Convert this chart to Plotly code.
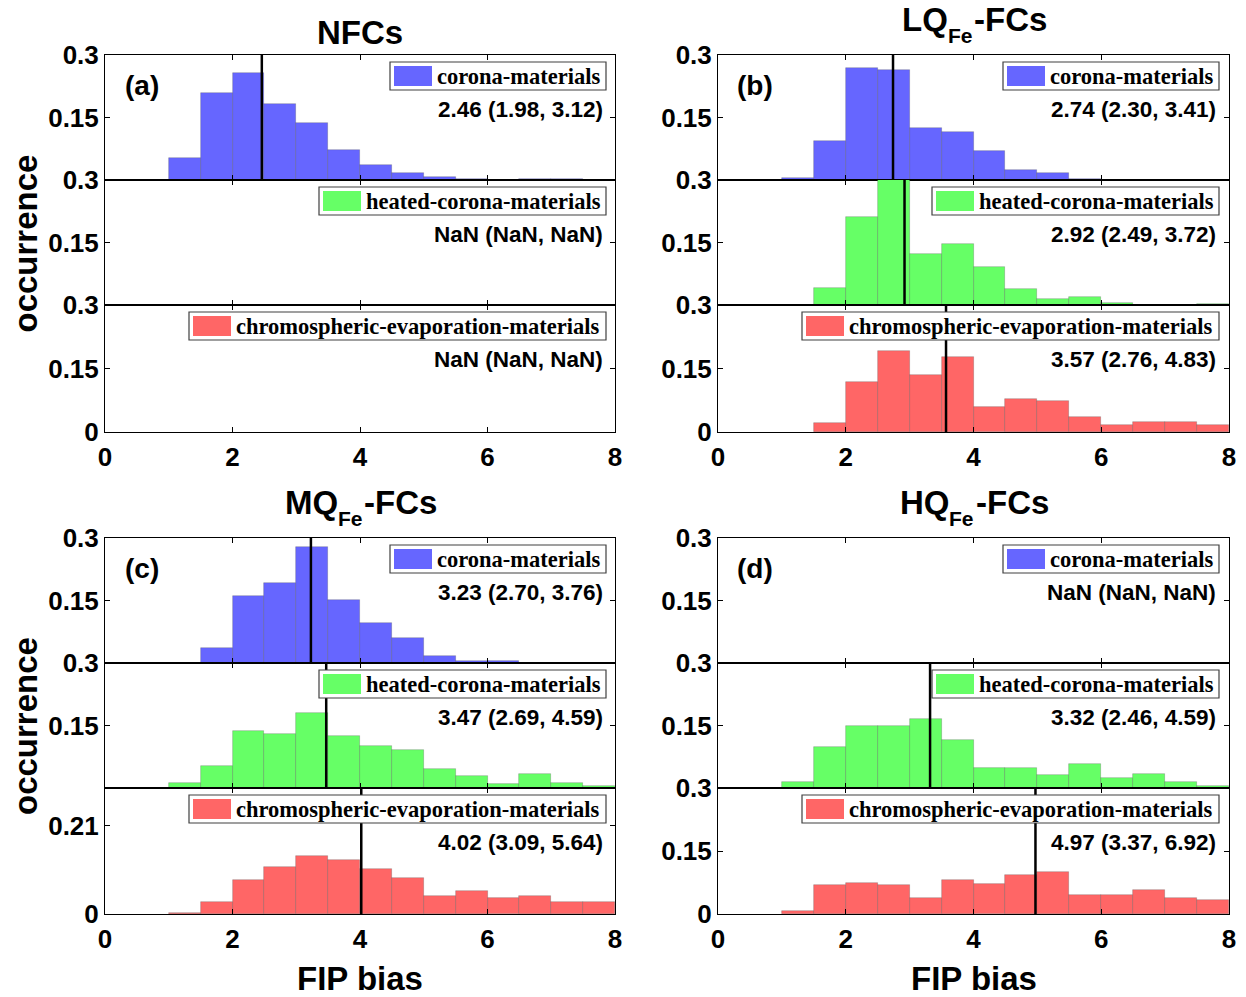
import plotly.graph_objects as go

# ---------------- data ----------------
bin_left = [0.0, 0.5, 1.0, 1.5, 2.0, 2.5, 3.0, 3.5, 4.0, 4.5, 5.0, 5.5, 6.0, 6.5, 7.0, 7.5]
bin_width = 0.5

a_corona = [0, 0, 0.053, 0.209, 0.256, 0.183, 0.138, 0.072, 0.035, 0.018, 0.008, 0.003, 0.001, 0.002, 0.003, 0]
a_heated = None
a_chromo = None

b_corona = [0, 0, 0.004, 0.093, 0.269, 0.265, 0.126, 0.115, 0.069, 0.024, 0.016, 0.003, 0, 0, 0, 0]
b_heated = [0, 0, 0, 0.040, 0.212, 0.310, 0.123, 0.147, 0.091, 0.038, 0.014, 0.019, 0.006, 0, 0, 0.002]
b_chromo = [0, 0, 0, 0.022, 0.117, 0.191, 0.135, 0.178, 0.060, 0.079, 0.073, 0.036, 0.017, 0.023, 0.023, 0.017]

c_corona = [0, 0, 0, 0.035, 0.162, 0.191, 0.278, 0.151, 0.097, 0.061, 0.017, 0.006, 0.006, 0, 0, 0]
c_heated = [0, 0, 0.011, 0.052, 0.136, 0.130, 0.179, 0.126, 0.101, 0.092, 0.045, 0.030, 0.009, 0.033, 0.011, 0.006]
c_chromo = [0, 0, 0.003, 0.029, 0.082, 0.111, 0.137, 0.129, 0.106, 0.086, 0.043, 0.054, 0.038, 0.044, 0.029, 0.029]

d_corona = None
d_heated = [0, 0, 0.015, 0.099, 0.149, 0.149, 0.165, 0.115, 0.049, 0.048, 0.032, 0.057, 0.023, 0.033, 0.015, 0.006]
d_chromo = [0, 0, 0.006, 0.069, 0.075, 0.069, 0.037, 0.082, 0.072, 0.094, 0.101, 0.046, 0.046, 0.056, 0.037, 0.033]

medians = [[2.46, None, None], [2.74, 2.92, 3.57], [3.23, 3.47, 4.02], [None, 3.32, 4.97]]
q_low = [[1.98, None, None], [2.30, 2.49, 2.76], [2.70, 2.69, 3.09], [None, 2.46, 3.37]]
q_high = [[3.12, None, None], [3.41, 3.72, 4.83], [3.76, 4.59, 5.64], [None, 4.59, 6.92]]

# titles: (main part, subscript, tail)
panel_titles = [("NFCs", "", ""), ("LQ", "Fe", "-FCs"), ("MQ", "Fe", "-FCs"), ("HQ", "Fe", "-FCs")]
panel_tags = ["(a)", "(b)", "(c)", "(d)"]
materials = ["corona-materials", "heated-corona-materials", "chromospheric-evaporation-materials"]

x_tickvals = [0, 2, 4, 6, 8]
x_ticktext = ["0", "2", "4", "6", "8"]
y_tickvals_upper = [0.15, 0.3]
y_ticktext_upper = ["0.15", "0.3"]
y_tickvals_lower = [0, 0.15, 0.3]
y_ticktext_lower = ["0", "0.15", "0.3"]
y_tickvals_c_lower = [0, 0.21]
y_ticktext_c_lower = ["0", "0.21"]

hist = [[a_corona, a_heated, a_chromo],
        [b_corona, b_heated, b_chromo],
        [c_corona, c_heated, c_chromo],
        [d_corona, d_heated, d_chromo]]

# ---------------- style / layout ----------------
W, H = 1246, 997
colors = ["#6666FF", "#66FF66", "#FF6666"]
col_px = [(105, 615), (718, 1229)]
row_px = [[(55, 180), (180, 305), (305, 432)],
          [(538, 663), (663, 788), (788, 914)]]
legend_left_off = [285, 214, 84]
SANS = "Liberation Sans, Arial, sans-serif"
SERIF = "Liberation Serif, Times New Roman, serif"
TITLE_SIZE = 33
SUB_SIZE = 21
# approximate Arial-bold advance widths (em) used only to place the title pieces
ARIAL_BOLD_EM = {"L": 0.611, "Q": 0.778, "M": 0.833, "H": 0.722, "F": 0.611, "e": 0.556,
                 "-": 0.333, "C": 0.722, "s": 0.556, "N": 0.722}


def text_w(t, size):
    return sum(ARIAL_BOLD_EM.get(ch, 0.556) for ch in t) * size


def px(x):
    return x / W


def py(y):
    return 1 - y / H


fig = go.Figure()
layout = dict(width=W, height=H, autosize=False, template="none",
              margin=dict(l=0, r=0, t=0, b=0, pad=0),
              paper_bgcolor="white", plot_bgcolor="white",
              showlegend=False, bargap=0)
shapes_lines = []
shapes_boxes = []
annotations = []
tick_font = dict(family=SANS, size=26, color="black", weight="bold")

for p in range(4):
    row, col = p // 2, p % 2
    cx0, cx1 = col_px[col]
    for s in range(3):
        n = p * 3 + s + 1
        xa = "x" if n == 1 else f"x{n}"
        ya = "y" if n == 1 else f"y{n}"
        xkey = "xaxis" if n == 1 else f"xaxis{n}"
        ykey = "yaxis" if n == 1 else f"yaxis{n}"
        ty0, ty1 = row_px[row][s]

        if s < 2:
            tv, tt = y_tickvals_upper, y_ticktext_upper
        elif p == 2:
            tv, tt = y_tickvals_c_lower, y_ticktext_c_lower
        else:
            tv, tt = y_tickvals_lower, y_ticktext_lower

        layout[xkey] = dict(domain=[px(cx0), px(cx1)], range=[0, 8], anchor=ya,
                            automargin=False,
                            showline=True, linecolor="black", linewidth=1, mirror="ticks",
                            ticks="inside", ticklen=5, tickwidth=1, tickcolor="black",
                            tickvals=x_tickvals, ticktext=x_ticktext,
                            showticklabels=(s == 2), ticklabelstandoff=2,
                            tickfont=tick_font,
                            showgrid=False, zeroline=False, fixedrange=True)
        layout[ykey] = dict(domain=[py(ty1), py(ty0)], range=[0, 0.3], anchor=xa,
                            automargin=False,
                            showline=True, linecolor="black", linewidth=1, mirror="ticks",
                            ticks="inside", ticklen=5, tickwidth=1, tickcolor="black",
                            tickvals=tv, ticktext=tt,
                            tickfont=tick_font,
                            showgrid=False, zeroline=False, fixedrange=True)

        vals = hist[p][s]
        if vals is not None:
            xs = [b for b, v in zip(bin_left, vals) if v > 0]
            ys = [v for v in vals if v > 0]
        else:
            xs, ys = [None], [None]
        fig.add_trace(go.Bar(x=xs, y=ys, width=bin_width, offset=0,
                             marker=dict(color=colors[s],
                                         line=dict(color="rgba(60,60,60,0.35)", width=0.7)),
                             xaxis=xa, yaxis=ya, hoverinfo="skip"))

        med = medians[p][s]
        if med is not None:
            shapes_lines.append(dict(type="line", xref=xa, yref=f"{ya} domain",
                                     x0=med, x1=med, y0=0, y1=1,
                                     line=dict(color="black", width=2.5)))
            stat = f"{med:.2f} ({q_low[p][s]:.2f}, {q_high[p][s]:.2f})"
        else:
            stat = "NaN (NaN, NaN)"

        # legend box
        bl = cx0 + legend_left_off[s]
        br = cx0 + 501
        shapes_boxes.append(dict(type="rect", xref="paper", yref="paper",
                                 x0=px(bl), x1=px(br), y0=py(ty0 + 35), y1=py(ty0 + 7),
                                 fillcolor="white", line=dict(color="#404040", width=1.2)))
        shapes_boxes.append(dict(type="rect", xref="paper", yref="paper",
                                 x0=px(bl + 4), x1=px(bl + 42), y0=py(ty0 + 31), y1=py(ty0 + 11),
                                 fillcolor=colors[s], line=dict(width=0)))
        annotations.append(dict(xref="paper", yref="paper", x=px(bl + 45), y=py(ty0 + 21),
                                xanchor="left", yanchor="middle", showarrow=False,
                                text=materials[s],
                                font=dict(family=SERIF, size=22.5, color="black", weight="bold")))
        annotations.append(dict(xref="paper", yref="paper", x=px(cx0 + 500), y=py(ty0 + 54),
                                xanchor="right", yanchor="middle", showarrow=False,
                                text=stat,
                                font=dict(family=SANS, size=22.5, color="black", weight="bold")))

        if s == 0:
            annotations.append(dict(xref="paper", yref="paper", x=px(cx0 + 37), y=py(ty0 + 30),
                                    xanchor="center", yanchor="middle", showarrow=False,
                                    text=panel_tags[p],
                                    font=dict(family=SANS, size=28, color="black", weight="bold")))
            main, sub, tail = panel_titles[p]
            tfont = dict(family=SANS, size=TITLE_SIZE, color="black", weight="bold")
            center = (cx0 + cx1) / 2
            if not sub:
                annotations.append(dict(xref="paper", yref="paper", x=px(center), y=py(ty0),
                                        xanchor="center", yanchor="bottom", yshift=2,
                                        showarrow=False, text=main, font=tfont))
            else:
                w1 = text_w(main, TITLE_SIZE)
                w2 = text_w(sub, SUB_SIZE) + 2
                w3 = text_w(tail, TITLE_SIZE)
                start = center - (w1 + w2 + w3) / 2
                annotations.append(dict(xref="paper", yref="paper", x=px(start), y=py(ty0),
                                        xanchor="left", yanchor="bottom", yshift=16, borderpad=0,
                                        showarrow=False, text=main, font=tfont))
                annotations.append(dict(xref="paper", yref="paper", x=px(start + w1), y=py(ty0),
                                        xanchor="left", yanchor="bottom", yshift=7, borderpad=0,
                                        showarrow=False, text=sub,
                                        font=dict(family=SANS, size=SUB_SIZE, color="black",
                                                  weight="bold")))
                annotations.append(dict(xref="paper", yref="paper", x=px(start + w1 + w2), y=py(ty0),
                                        xanchor="left", yanchor="bottom", yshift=16, borderpad=0,
                                        showarrow=False, text=tail, font=tfont))

    # axis titles
    if col == 0:
        yc = (row_px[row][0][0] + row_px[row][2][1]) / 2
        annotations.append(dict(xref="paper", yref="paper", x=px(25), y=py(yc),
                                xanchor="center", yanchor="middle", showarrow=False,
                                textangle=-90, text="occurrence",
                                font=dict(family=SANS, size=33, color="black", weight="bold")))
    if row == 1:
        annotations.append(dict(xref="paper", yref="paper", x=px((cx0 + cx1) / 2), y=py(978),
                                xanchor="center", yanchor="middle", showarrow=False,
                                text="FIP bias",
                                font=dict(family=SANS, size=33, color="black", weight="bold")))

layout["shapes"] = shapes_lines + shapes_boxes
layout["annotations"] = annotations
fig.update_layout(**layout)
fig.write_html("out.html")
